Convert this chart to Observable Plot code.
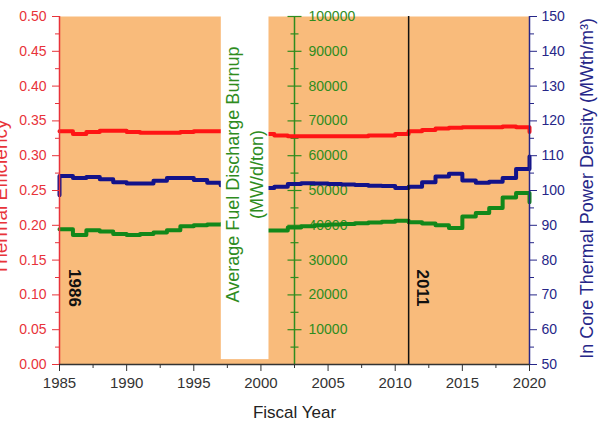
<!DOCTYPE html>
<html><head><meta charset="utf-8">
<script src="https://cdn.jsdelivr.net/npm/d3@7"></script>
<script src="https://cdn.jsdelivr.net/npm/@observablehq/plot@0.6"></script>
<style>body{margin:0;background:#fff;} svg{display:block;}</style>
</head><body><div id="chart"></div>
<script>
// ---- data ----
const years = [1985,1986,1987,1988,1989,1990,1991,1992,1993,1994,1995,1996,1997,1998,1999,2000,2001,2002,2003,2004,2005,2006,2007,2008,2009,2010,2011,2012,2013,2014,2015,2016,2017,2018,2019,2020];
const efficiency = [0.335,0.331,0.334,0.336,0.336,0.334,0.333,0.333,0.333,0.334,0.335,0.335,0.335,0.335,0.334,0.331,0.329,0.328,0.328,0.328,0.328,0.328,0.328,0.329,0.329,0.331,0.335,0.337,0.339,0.340,0.341,0.341,0.341,0.342,0.341,0.334];
const densityStart = 98.6;
const density = [104.2,103.6,103.9,103.2,102.4,102.0,102.0,102.8,103.6,103.6,103.0,102.2,101.5,101.2,101.0,100.7,101.1,101.9,102.1,102.0,101.9,101.7,101.6,101.4,101.3,100.7,101.1,102.4,104.0,104.8,102.9,102.2,102.5,103.6,106.2,109.8];
const burnup = [38900,37200,38600,38200,37500,37200,37500,37900,38600,39700,40000,40200,40300,40300,40000,38500,38500,39400,39700,40000,40200,40400,40600,40800,41000,41300,40900,40500,40000,39200,42500,43500,45000,48000,49300,46600];

const xTicks = [1985,1990,1995,2000,2005,2010,2015,2020];
const effTicks = [0,0.05,0.10,0.15,0.20,0.25,0.30,0.35,0.40,0.45,0.50];
const densityTicks = [50,60,70,80,90,100,110,120,130,140,150];
const burnupTicks = [10000,20000,30000,40000,50000,60000,70000,80000,90000,100000];
const events = [1986, 2011];

// ---- layout / style constants ----
const midAxisX = 2002.5;
const box = {x1: 1997.05, x2: 2000.6, y1: 0.007, y2: 0.5};
const annotationY = 0.11;
const orange = "#f9bb7b", red = "#ff1414", redAxis = "#e8333a",
      navy = "#12128a", navyAxis = "#262688", green = "#12881a", greenAxis = "#2f8c1e";

// secondary scales mapped onto the efficiency axis
const dY = d => (d - 50) / 200;
const bY = b => b / 200000;
const mids = t => t.slice(1).map((v, i) => (v + t[i]) / 2);

const effData = years.map((year, i) => ({year, v: efficiency[i]}));
const denData = [{year: years[0], v: dY(densityStart)}, ...years.map((year, i) => ({year, v: dY(density[i])}))];
const burData = years.map((year, i) => ({year, v: bY(burnup[i])}));

const hTick = len => ({draw(ctx) { ctx.moveTo(-len, 0); ctx.lineTo(len, 0); }});
const burnupMinor = [0, ...burnupTicks].slice(0, -1).map(v => v + 5000);

const chart = Plot.plot({
  width: 600, height: 421,
  marginLeft: 59, marginRight: 71, marginTop: 16, marginBottom: 57,
  style: {fontFamily: "'Liberation Sans', Arial, sans-serif", background: "white", overflow: "hidden"},
  x: {domain: [1985, 2020], axis: null},
  y: {domain: [0, 0.5], axis: null},
  marks: [
    Plot.frame({fill: orange, stroke: "none"}),
    // middle (burnup) axis
    Plot.ruleX([midAxisX], {stroke: greenAxis, strokeWidth: 1.5}),
    Plot.dot(burnupTicks, {x: () => midAxisX, y: bY, symbol: hTick(7), stroke: greenAxis, fill: "none", strokeWidth: 1.2}),
    Plot.dot(burnupMinor, {x: () => midAxisX, y: bY, symbol: hTick(4), stroke: greenAxis, fill: "none", strokeWidth: 1.2}),
    Plot.text(burnupTicks, {x: () => midAxisX, y: bY, text: d => String(d), textAnchor: "start", dx: 14, fill: greenAxis, fontSize: 14}),
    // data
    Plot.line(effData, {x: "year", y: "v", stroke: red, strokeWidth: 4, curve: "step-after"}),
    Plot.line(denData, {x: "year", y: "v", stroke: navy, strokeWidth: 4, curve: "step-after"}),
    Plot.line(burData, {x: "year", y: "v", stroke: green, strokeWidth: 4, curve: "step-after"}),
    Plot.ruleX([events[1]], {stroke: "#111", strokeWidth: 1.5}),
    // white label box
    Plot.rect([box], {x1: "x1", x2: "x2", y1: "y1", y2: "y2", fill: "white"}),
    Plot.text(["Average Fuel Discharge Burnup\n(MW/d/ton)"], {x: () => box.x2, y: () => 0.273, dx: -6, rotate: -90, textAnchor: "middle", lineAnchor: "bottom", lineHeight: 1.33, fontSize: 18, fill: greenAxis}),
    // left axis
    Plot.ruleX([1985], {stroke: redAxis, strokeWidth: 1.5}),
    Plot.axisY(effTicks, {anchor: "left", tickSize: 7, tickPadding: 6, color: redAxis, fontSize: 14, tickFormat: d => d.toFixed(2), label: null}),
    Plot.axisY(mids(effTicks), {anchor: "left", tickSize: 4, color: redAxis, tickFormat: () => "", label: null}),
    // right axis
    Plot.ruleX([2020], {stroke: navyAxis, strokeWidth: 1.5}),
    Plot.axisY(densityTicks.map(dY), {anchor: "right", tickSize: 7, tickPadding: 5, color: navyAxis, fontSize: 14, tickFormat: v => String(Math.round(v * 200 + 50)), label: null}),
    Plot.axisY(mids(densityTicks).map(dY), {anchor: "right", tickSize: 4, color: navyAxis, tickFormat: () => "", label: null}),
    // bottom axis
    Plot.ruleY([0], {stroke: "#333", strokeWidth: 1.5}),
    Plot.axisX(xTicks, {anchor: "bottom", tickSize: 7, tickPadding: 6, color: "#333", fontSize: 15, tickFormat: d => String(d), label: null}),
    Plot.axisX(mids(xTicks), {anchor: "bottom", tickSize: 4, color: "#333", tickFormat: () => "", label: null}),
    // annotations
    Plot.text([events[0]], {x: d => d, y: () => annotationY, text: d => String(d), rotate: 90, fontWeight: "bold", fontSize: 17, fill: "#111", dx: 2}),
    Plot.text([events[1]], {x: d => d, y: () => annotationY, text: d => String(d), rotate: 90, fontWeight: "bold", fontSize: 17, fill: "#111", dx: 14}),
    // axis titles
    Plot.text(["Thermal Efficiency"], {frameAnchor: "left", dx: -53, dy: 7, rotate: -90, textAnchor: "middle", lineAnchor: "bottom", fill: redAxis, fontSize: 19}),
    Plot.text(["In Core Thermal Power Density (MWth/m³)"], {frameAnchor: "right", dx: 63, dy: -2, rotate: -90, textAnchor: "middle", lineAnchor: "bottom", fill: navyAxis, fontSize: 18}),
    Plot.text(["Fiscal Year"], {frameAnchor: "bottom", dy: 53, textAnchor: "middle", lineAnchor: "bottom", fill: "#222", fontSize: 17})
  ]
});
document.getElementById("chart").appendChild(chart);
</script>
</body></html>
